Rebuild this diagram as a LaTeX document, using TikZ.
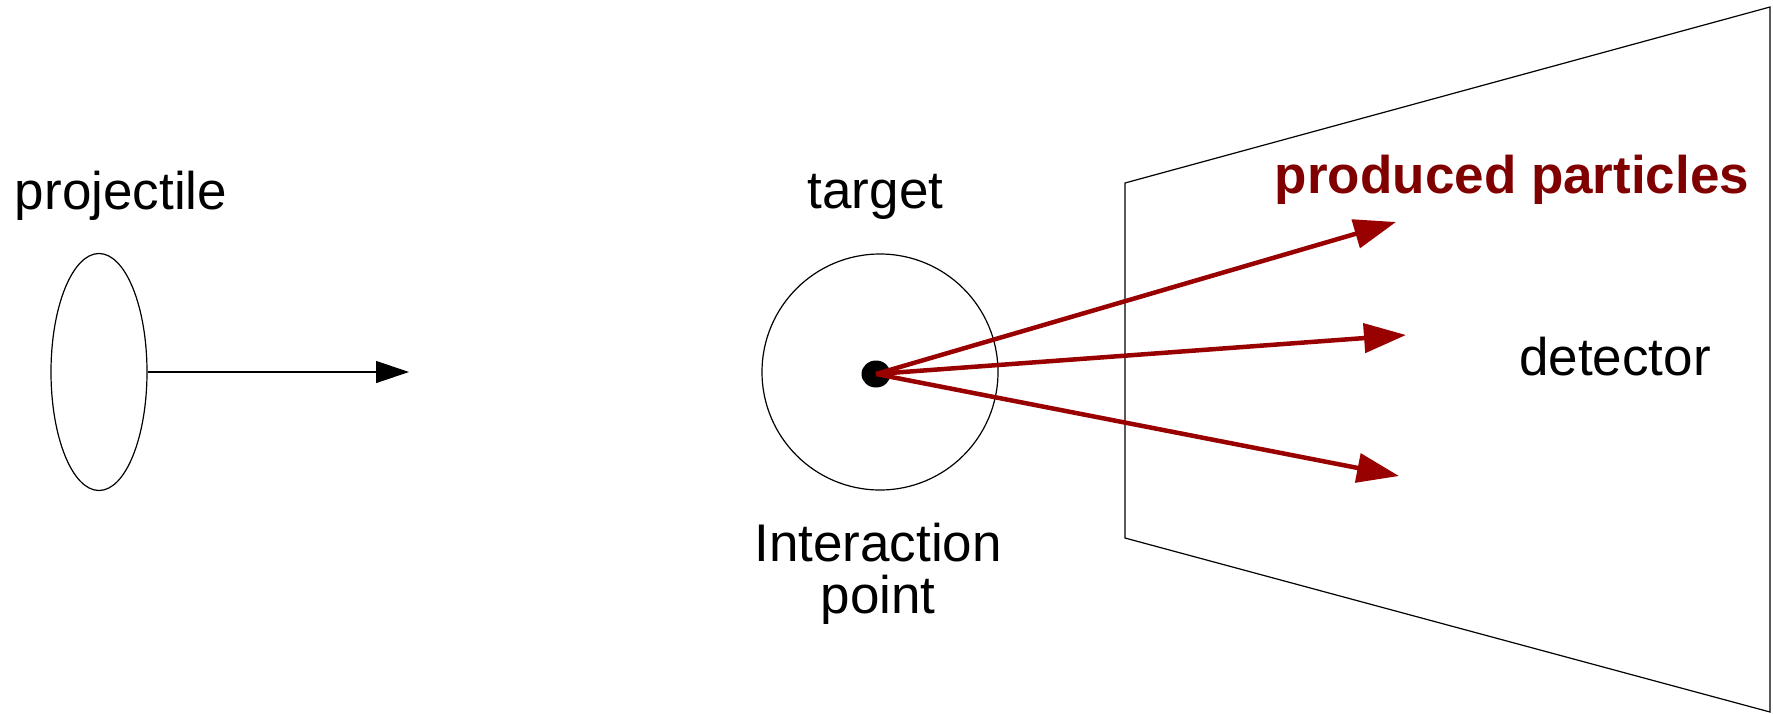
\documentclass[tikz,border=0pt]{standalone}
\usepackage{fontspec}
\setmainfont{Liberation Sans}
\usetikzlibrary{arrows.meta,shapes.geometric}
\definecolor{rayred}{HTML}{990000}
\definecolor{labelred}{HTML}{800000}
\tikzset{
  thin line/.style={draw=black, line width=1.2pt},
  beam/.style={draw=black, line width=1.3pt, -{Triangle[length=33pt,width=22pt]}},
  ray/.style={draw=rayred, line width=4.5pt, -{Triangle[length=42pt,width=29pt]}},
  label/.style={font=\fontsize{53}{52}\selectfont, inner sep=0pt, anchor=base, align=center},
}
\begin{document}
\begin{tikzpicture}[x=1pt, y=-1pt]
  \useasboundingbox (0,0) rectangle (1773,713);
  \fill[white] (0,0) rectangle (1773,713);

  % detector plane in perspective
  \draw[thin line, line join=miter] (1125,183) -- (1770,7) -- (1770,712) -- (1125,538) -- cycle;

  % projectile bunch and its direction of flight
  \node[thin line, ellipse, minimum width=96pt, minimum height=237pt, inner sep=0pt] (proj) at (99,372) {};
  \coordinate (beamtip) at (409,372);
  \draw[beam] (proj.east) -- (beamtip);

  % target with interaction point
  \node[thin line, circle, minimum size=236pt, inner sep=0pt] (target) at (880,372) {};
  \node[fill=black, ellipse, minimum width=29pt, minimum height=27pt, inner sep=0pt] (ip) at (876,374) {};

  % produced particles
  \coordinate (p1) at (1396,222);
  \coordinate (p2) at (1406,335);
  \coordinate (p3) at (1399,476);
  \draw[ray] (ip.center) -- (p1);
  \draw[ray] (ip.center) -- (p2);
  \draw[ray] (ip.center) -- (p3);

  % labels
  \node[label] (projlabel) at (121,209) {projectile};
  \node[label] (targetlabel) at (875.5,208) {target};
  \node[label] (iplabel) at (878,613) {Interaction\\point};
  \node[label, text=labelred, font=\fontsize{53}{52}\selectfont\bfseries] (prodlabel) at (1512,193) {produced particles};
  \node[label] (detlabel) at (1615,375) {detector};
\end{tikzpicture}
\end{document}
